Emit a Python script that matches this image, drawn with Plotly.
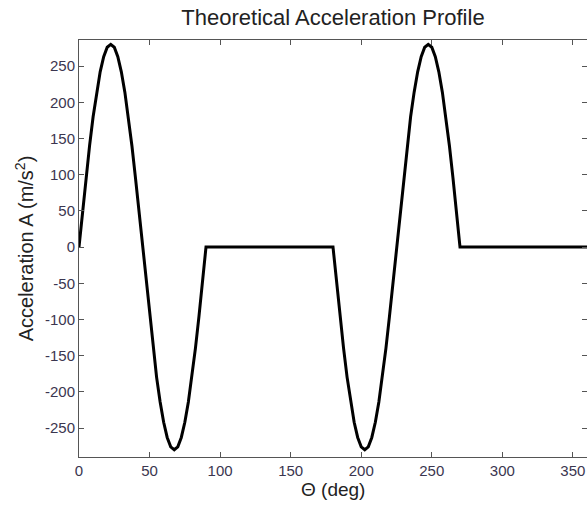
import plotly.graph_objects as go

# Angle (deg) and acceleration (m/s^2)
theta = [0, 2.5, 5, 7.5, 10, 12.5, 15, 17.5, 20, 22.5, 25, 27.5, 30, 32.5, 35, 37.5, 40, 42.5,
         45, 47.5, 50, 52.5, 55, 57.5, 60, 62.5, 65, 67.5, 70, 72.5, 75, 77.5, 80, 82.5, 85, 87.5, 90,
         180, 182.5, 185, 187.5, 190, 192.5, 195, 197.5, 200, 202.5, 205, 207.5, 210, 212.5, 215, 217.5,
         220, 222.5, 225, 227.5, 230, 232.5, 235, 237.5, 240, 242.5, 245, 247.5, 250, 252.5, 255, 257.5,
         260, 262.5, 265, 267.5, 270, 360]
accel = [0, 49, 96, 140, 180, 214, 242, 263, 276, 280, 276, 263, 242, 214, 180, 140, 96, 49,
         0, -49, -96, -140, -180, -214, -242, -263, -276, -280, -276, -263, -242, -214, -180, -140, -96, -49, 0,
         0, -49, -96, -140, -180, -214, -242, -263, -276, -280, -276, -263, -242, -214, -180, -140,
         -96, -49, 0, 49, 96, 140, 180, 214, 242, 263, 276, 280, 276, 263, 242, 214,
         180, 140, 96, 49, 0, 0]

x_ticks = [0, 50, 100, 150, 200, 250, 300, 350]
y_ticks = [-250, -200, -150, -100, -50, 0, 50, 100, 150, 200, 250]
y_ticktext = ["-250", "-200", "-150", "-100", "-50", "0", "50", "100", "150", "200", "250"]

FONT = "Liberation Sans, Arial, sans-serif"
TICKC = "#3b3650"
AXC = "#555555"

fig = go.Figure()
fig.add_trace(go.Scatter(x=theta, y=accel, mode="lines",
                         line=dict(color="black", width=3), showlegend=False))

fig.update_layout(
    width=587, height=507,
    margin=dict(l=79, r=0, t=40, b=50),
    paper_bgcolor="white", plot_bgcolor="white",
    title=dict(text="Theoretical Acceleration Profile", x=(79 + 587) / 2 / 587, xanchor="center",
               y=1 - 17 / 507, yanchor="middle", yref="container",
               font=dict(family=FONT, size=22, color="#222222")),
    font=dict(family=FONT),
    annotations=[dict(text="Θ (deg)", xref="paper", yref="paper", x=0.5, y=-32 / 417,
                      xanchor="center", yanchor="middle", showarrow=False,
                      font=dict(family=FONT, size=19, color="#222222"))],
)
fig.update_xaxes(range=[0, 360], tickvals=x_ticks, ticks="inside", ticklen=5, tickcolor=AXC,
                 showline=True, linecolor=AXC, linewidth=1, mirror="ticks", showgrid=False,
                 zeroline=False, tickfont=dict(size=15, color=TICKC))
fig.update_yaxes(range=[-290, 286], tickvals=y_ticks, ticktext=y_ticktext, ticks="inside", ticklen=5,
                 tickcolor=AXC, showline=True, linecolor=AXC, linewidth=1, mirror="ticks",
                 showgrid=False, zeroline=False, tickfont=dict(size=15, color=TICKC),
                 title=dict(text="Acceleration A (m/s<sup>2</sup>)", font=dict(size=20, color="#222222"),
                            standoff=5))

fig.write_html("out.html")
